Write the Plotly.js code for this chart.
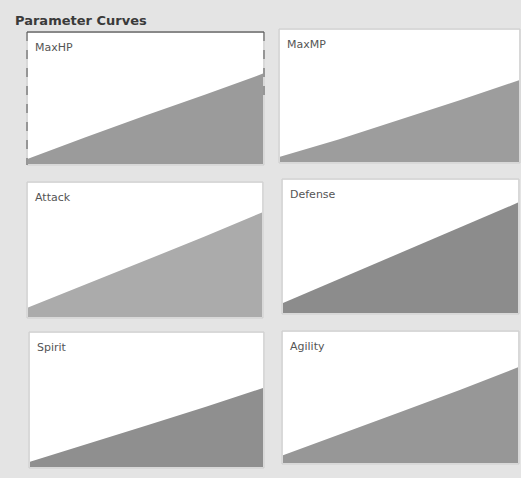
<!DOCTYPE html>
<html>
<head>
<meta charset="utf-8">
<script src="https://cdn.plot.ly/plotly-3.0.1.min.js"></script>
<style>html,body{margin:0;padding:0;background:#e4e4e4;}#chart{width:521px;height:478px;}</style>
</head>
<body>
<div id="chart"></div>
<script>
// Data (values as % of each panel's height)
const levels = [1, 25, 50, 75, 99];
const paramNames = ["MaxHP", "MaxMP", "Attack", "Defense", "Spirit", "Agility"];
const maxHP   = [4, 20.5, 37, 53, 69];
const maxMP   = [4, 17, 32, 47, 62];
const attack  = [7, 24, 42, 60, 78];
const defense = [7.5, 26, 45, 64, 83];
const spirit  = [4, 17, 31, 45, 59];
const agility = [6, 22, 39, 56, 73];
const seriesValues = [maxHP, maxMP, attack, defense, spirit, agility];

// Layout (pixel boxes of each panel)
const W = 521, H = 478;
const boxes = [
  [28, 33, 263, 164],
  [280, 30, 519, 162],
  [28, 183, 262, 317],
  [283, 180, 518, 313],
  [30, 333, 263, 467],
  [283, 332, 518, 463]
];
const fills = ["#9b9b9b", "#9d9d9d", "#ababab", "#8c8c8c", "#8f8f8f", "#979797"];

const traces = [];
const layout = {
  width: W, height: H,
  margin: {l: 0, r: 0, t: 0, b: 0},
  paper_bgcolor: "#e4e4e4",
  plot_bgcolor: "#ffffff",
  showlegend: false,
  shapes: [],
  annotations: [{
    text: "<b>Parameter Curves</b>",
    xref: "paper", yref: "paper",
    x: 13 / W, y: 1 - 21 / H,
    xanchor: "left", yanchor: "middle",
    showarrow: false,
    font: {family: "DejaVu Sans", size: 13, color: "#3a3a3a"}
  }]
};

function px(v) { return v / W; }
function py(v) { return 1 - v / H; }

boxes.forEach((b, i) => {
  const n = i + 1;
  const xa = n === 1 ? "x" : "x" + n;
  const ya = n === 1 ? "y" : "y" + n;
  traces.push({
    x: levels, y: seriesValues[i],
    xaxis: xa, yaxis: ya,
    type: "scatter", mode: "lines",
    fill: "tozeroy", fillcolor: fills[i],
    line: {width: 0, color: fills[i]},
    hoverinfo: "skip"
  });
  const axBase = {showgrid: false, zeroline: false, showticklabels: false, ticks: "", showline: false, fixedrange: true};
  layout["xaxis" + (n === 1 ? "" : n)] = Object.assign({}, axBase, {
    domain: [b[0] / W, b[2] / W], range: [1, 99], anchor: ya
  });
  layout["yaxis" + (n === 1 ? "" : n)] = Object.assign({}, axBase, {
    domain: [1 - b[3] / H, 1 - b[1] / H], range: [0, 100], anchor: xa
  });
  layout.shapes.push({
    type: "rect", xref: "paper", yref: "paper",
    x0: px(b[0] - 1), x1: px(b[2] + 1),
    y0: py(b[3] + 1), y1: py(b[1] - 1),
    line: {color: "#cdcdcd", width: 1}
  });
  if (n === 1) {
    // focus frame: solid top, dashed sides
    layout.shapes.push({type: "line", xref: "paper", yref: "paper",
      x0: px(b[0] - 1), x1: px(b[2] + 1), y0: py(b[1] - 1), y1: py(b[1] - 1),
      line: {color: "#3a3a3a", width: 1}});
    layout.shapes.push({type: "line", xref: "paper", yref: "paper",
      x0: px(b[0] - 1), x1: px(b[0] - 1), y0: py(b[1] - 1), y1: py(b[3] + 1),
      line: {color: "#555555", width: 1, dash: "dash"}});
    layout.shapes.push({type: "line", xref: "paper", yref: "paper",
      x0: px(b[2] + 1), x1: px(b[2] + 1), y0: py(b[1] - 1), y1: py(b[3] - 60),
      line: {color: "#555555", width: 1, dash: "dash"}});
  }
  layout.annotations.push({
    text: paramNames[i],
    xref: "paper", yref: "paper",
    x: px(b[0] + 5), y: py(b[1] + 14),
    xanchor: "left", yanchor: "middle",
    showarrow: false,
    font: {family: "DejaVu Sans", size: 11, color: "#555555"}
  });
});

Plotly.newPlot("chart", traces, layout, {displayModeBar: false, staticPlot: true});
</script>
</body>
</html>
